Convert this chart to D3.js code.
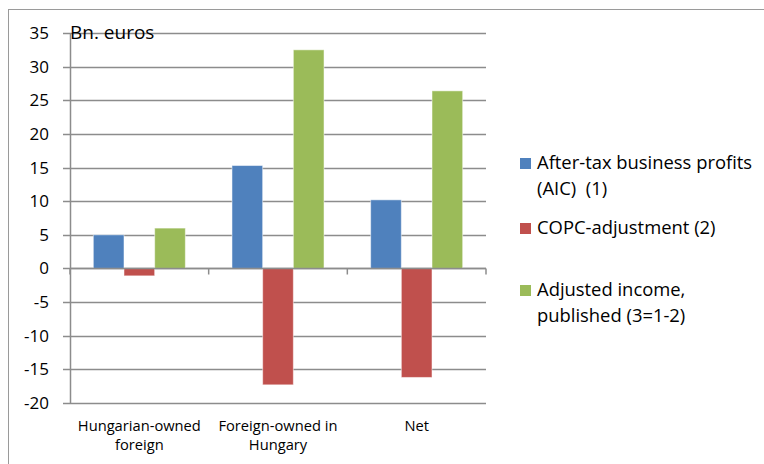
<!DOCTYPE html>
<html><head><meta charset="utf-8">
<script src="https://cdn.jsdelivr.net/npm/d3@7"></script>
<style>body{margin:0;background:#fff}svg{display:block}text{font-family:"Open Sans",sans-serif;fill:#000;white-space:pre}</style>
</head><body><svg id="c" width="764" height="464"></svg>
<script>
const categories = [["Hungarian-owned","foreign"],["Foreign-owned in","Hungary"],["Net"]];
const seriesNames = [["After-tax business profits","(AIC)  (1)"],["COPC-adjustment (2)"],["Adjusted income,","published (3=1-2)"]];
const afterTax = [5.0, 15.3, 10.2];
const copc = [-1.1, -17.3, -16.2];
const adjusted = [6.0, 32.5, 26.4];
const yTicks = [35,30,25,20,15,10,5,0,-5,-10,-15,-20];
const colors = ["#4F81BD","#C0504D","#9BBB59"];
const series = [afterTax, copc, adjusted];

const svg = d3.select("#c");
svg.append("rect").attr("x",8.5).attr("y",9.5).attr("width",800).attr("height",500)
  .attr("fill","none").attr("stroke","#9a9a9a").attr("stroke-width",1);

const L=70, R=486, T=33, B=403;
const y = d3.scaleLinear().domain([-20,35]).range([B,T]);
const x = d3.scaleBand().domain(d3.range(categories.length)).range([L,R]).paddingInner(0).paddingOuter(0);
const xs = d3.scaleBand().domain(d3.range(3)).range([0,x.bandwidth()]).paddingOuter(0.76).paddingInner(0);

// gridlines
svg.append("g").selectAll("line").data(yTicks).join("line")
  .attr("x1",L-7).attr("x2",R).attr("y1",d=>Math.round(y(d))+0.5).attr("y2",d=>Math.round(y(d))+0.5)
  .attr("stroke","#8c8c8c").attr("stroke-width",1.5);
// y axis
svg.append("line").attr("x1",L+0.5).attr("x2",L+0.5).attr("y1",T).attr("y2",B+0.5).attr("stroke","#8c8c8c").attr("stroke-width",1.5);
svg.append("g").selectAll("text").data(yTicks).join("text")
  .attr("x",49).attr("y",d=>y(d)+6).attr("text-anchor","end").attr("font-size",17).text(d=>d);

// bars
series.forEach((s,si)=>{
  svg.append("g").selectAll("rect").data(s).join("rect")
    .attr("x",(d,i)=>x(i)+xs(si))
    .attr("width",xs.bandwidth())
    .attr("y",d=>y(Math.max(0,d)))
    .attr("height",d=>Math.abs(y(d)-y(0)))
    .attr("fill",colors[si]).attr("stroke","rgba(255,255,255,0.5)").attr("stroke-width",1);
});

// x axis line and ticks
const zy = Math.round(y(0))+0.5;
svg.append("line").attr("x1",L).attr("x2",R).attr("y1",zy).attr("y2",zy).attr("stroke","#8c8c8c").attr("stroke-width",1.5);
svg.append("g").selectAll("line").data(d3.range(categories.length+1)).join("line")
  .attr("x1",i=>i<categories.length?x(i):R).attr("x2",i=>i<categories.length?x(i):R)
  .attr("y1",zy).attr("y2",zy+6).attr("stroke","#8c8c8c").attr("stroke-width",1.5);

// x labels
categories.forEach((lines,i)=>{
  const t = svg.append("text").attr("text-anchor","middle").attr("font-size",14.7);
  lines.forEach((ln,j)=>t.append("tspan").attr("x",x(i)+x.bandwidth()/2).attr("y",431+j*19).text(ln));
});

// title
svg.append("text").attr("x",70).attr("y",39).attr("font-size",19).text("Bn. euros");

// legend
const legY = [158,223,285];
seriesNames.forEach((lines,i)=>{
  svg.append("rect").attr("x",520).attr("y",legY[i]).attr("width",11).attr("height",11).attr("fill",colors[i]);
  const t = svg.append("text").attr("font-size",18.4);
  lines.forEach((ln,j)=>t.append("tspan").attr("x",537).attr("y",legY[i]+11+j*26).text(ln));
});
</script></body></html>
